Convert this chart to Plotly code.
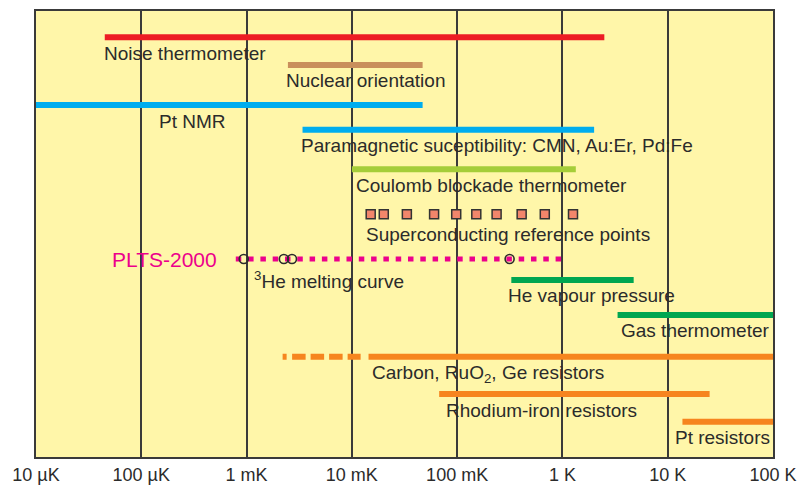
import math
import plotly.graph_objects as go

# ---------------- data ----------------
TICK_VALUES = [1e-5, 1e-4, 1e-3, 1e-2, 1e-1, 1, 10, 100]
TICK_LABELS = ["10 µK", "100 µK", "1 mK", "10 mK", "100 mK", "1 K", "10 K", "100 K"]

METHODS = ["Noise thermometer", "Nuclear orientation", "Pt NMR",
           "Paramagnetic suceptibility: CMN, Au:Er, Pd:Fe",
           "Coulomb blockade thermometer", "He vapour pressure",
           "Gas thermometer", "Rhodium-iron resistors", "Pt resistors"]
T_LOW = [4.5e-5, 2.47e-3, 1e-5, 3.4e-3, 1e-2, 0.327, 3.34, 6.75e-2, 13.8]
T_HIGH = [2.5, 4.7e-2, 4.7e-2, 2.0, 1.34, 4.75, 100, 25, 100]

SC_REF_POINTS = [0.0151, 0.0201, 0.0333, 0.0604, 0.098, 0.152, 0.237, 0.41, 0.68, 1.26]
PLTS_RANGE = [7.9e-4, 1.0]
MELT_POINTS = [0.94e-3, 2.26e-3, 2.7e-3, 0.315]
CARBON_DASHED = [2.2e-3, 14.4e-3]
CARBON_SOLID = [14.4e-3, 100]

# ---------------- layout / style ----------------
ROW_Y = {  # vertical row positions (px from top of plot area)
    "Noise thermometer": 26.3, "Nuclear orientation": 54, "Pt NMR": 94,
    "Paramagnetic suceptibility: CMN, Au:Er, Pd:Fe": 118.7,
    "Coulomb blockade thermometer": 158.3, "SC": 203.3, "PLTS": 248,
    "He vapour pressure": 269, "Gas thermometer": 304, "Carbon": 345.7,
    "Rhodium-iron resistors": 383, "Pt resistors": 410.7,
}
COLORS = {
    "Noise thermometer": "#ed1c24", "Nuclear orientation": "#c98f5c",
    "Pt NMR": "#00adee", "Paramagnetic suceptibility: CMN, Au:Er, Pd:Fe": "#00adee",
    "Coulomb blockade thermometer": "#a5cd39", "He vapour pressure": "#00a651",
    "Gas thermometer": "#00a651", "Rhodium-iron resistors": "#f6851f",
    "Pt resistors": "#f6851f",
}
ORANGE = "#f6851f"
MAGENTA = "#ec008c"
TEXT = "#2b2b2b"
BG = "#fff6a9"
GRID = "#3a3a3a"
FONT = "Liberation Sans, Arial, sans-serif"
LW = 6

fig = go.Figure()

for name, lo, hi in zip(METHODS, T_LOW, T_HIGH):
    y = ROW_Y[name]
    fig.add_trace(go.Scatter(x=[lo, hi], y=[y, y], mode="lines",
                             line=dict(color=COLORS[name], width=LW), hoverinfo="skip"))

# Carbon, RuO2, Ge resistors: dashed then solid
yc = ROW_Y["Carbon"]
fig.add_trace(go.Scatter(x=CARBON_DASHED, y=[yc, yc], mode="lines",
                         line=dict(color=ORANGE, width=LW,
                                   dash="4px,5.5px,13.5px,5px,13.5px,5px,13.5px,5px,13px,200px"),
                         hoverinfo="skip"))
fig.add_trace(go.Scatter(x=CARBON_SOLID, y=[yc, yc], mode="lines",
                         line=dict(color=ORANGE, width=LW), hoverinfo="skip"))

# PLTS-2000 dotted line
yp = ROW_Y["PLTS"]
fig.add_trace(go.Scatter(x=PLTS_RANGE, y=[yp, yp], mode="lines",
                         line=dict(color=MAGENTA, width=5, dash="5.5px,6.8px"),
                         hoverinfo="skip"))
fig.add_trace(go.Scatter(x=MELT_POINTS, y=[yp] * len(MELT_POINTS), mode="markers",
                         marker=dict(symbol="circle-open", size=9, color=TEXT,
                                     line=dict(color=TEXT, width=1.6)),
                         hoverinfo="skip"))

# superconducting reference points
ys = ROW_Y["SC"]
fig.add_trace(go.Scatter(x=SC_REF_POINTS, y=[ys] * len(SC_REF_POINTS), mode="markers",
                         marker=dict(symbol="square", size=9, color="#f2866b",
                                     line=dict(color="#333333", width=1.5)),
                         hoverinfo="skip"))

# ---------------- labels ----------------
def label(text, t, y, anchor="left", size=19, color=TEXT, xshift=-4):
    fig.add_annotation(x=math.log10(t), y=y, text=text, showarrow=False,
                       xanchor=anchor, yanchor="middle", xshift=xshift,
                       font=dict(family=FONT, size=size, color=color))

label("Noise thermometer", T_LOW[0], ROW_Y["Noise thermometer"] + 15.7, xshift=-3)
label("Nuclear orientation", T_LOW[1], ROW_Y["Nuclear orientation"] + 15)
label("Pt NMR", 1.55e-4, ROW_Y["Pt NMR"] + 16)
label("Paramagnetic suceptibility: CMN, Au:Er, Pd:Fe", T_LOW[3],
      ROW_Y["Paramagnetic suceptibility: CMN, Au:Er, Pd:Fe"] + 15.3)
label("Coulomb blockade thermometer", 11.6e-3, ROW_Y["Coulomb blockade thermometer"] + 16.2,
      xshift=-5)
label("Superconducting reference points", 14.4e-3, ROW_Y["SC"] + 20.2, xshift=-5)
label("PLTS-2000", 0.52e-3, ROW_Y["PLTS"], anchor="right", size=21, color=MAGENTA,
      xshift=2)
label("<sup>3</sup>He melting curve", 1.25e-3, ROW_Y["PLTS"] + 20.5, xshift=-5)
label("He vapour pressure", T_LOW[5], ROW_Y["He vapour pressure"] + 15, xshift=-5)
label("Gas thermometer", 100, ROW_Y["Gas thermometer"] + 15, anchor="right", xshift=-2)
label("Carbon, RuO<sub>2</sub>, Ge resistors", 16.5e-3, ROW_Y["Carbon"] + 16.8, xshift=-5)
label("Rhodium-iron resistors", 82e-3, ROW_Y["Rhodium-iron resistors"] + 16)
label("Pt resistors", 100, ROW_Y["Pt resistors"] + 15.3, anchor="right", xshift=-1)

fig.update_xaxes(type="log", range=[-5, 2], tickvals=TICK_VALUES, ticktext=TICK_LABELS,
                 showgrid=True, gridcolor=GRID, gridwidth=2, zeroline=False,
                 showline=True, linecolor=GRID, linewidth=2, mirror=True, ticks="",
                 ticklabelstandoff=0,
                 tickfont=dict(family=FONT, size=18, color=TEXT))
fig.update_yaxes(range=[446, 0], showgrid=False, zeroline=False, showticklabels=False,
                 showline=True, linecolor=GRID, linewidth=2, mirror=True, ticks="")

# page body has an 8px default margin, so the figure is sized to fit the window
fig.update_layout(width=804, height=478, showlegend=False, hovermode=False,
                  paper_bgcolor="white", plot_bgcolor=BG,
                  margin=dict(l=28, r=39, t=3, b=29, autoexpand=False))

fig.write_html("out.html")
